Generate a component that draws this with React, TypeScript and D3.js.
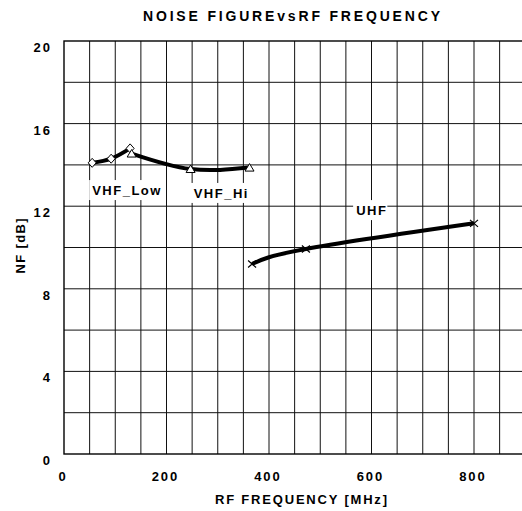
import React, { useEffect, useRef } from "react";
import * as d3 from "d3";

const freqTicks = [0, 200, 400, 600, 800];
const nfTicks = [0, 4, 8, 12, 16, 20];

const vhfLowFreq = [55, 92, 129];
const vhfLowNF = [14.1, 14.3, 14.8];
const vhfHiFreq = [132, 247, 362];
const vhfHiNF = [14.55, 13.8, 13.87];
const uhfFreq = [367, 472, 800];
const uhfNF = [9.2, 9.93, 11.17];

const seriesLabels = [
  { text: "VHF_Low", f: 55, nf: 12.54 },
  { text: "VHF_Hi", f: 253, nf: 12.4 },
  { text: "UHF", f: 570, nf: 11.57 },
];

const W = 522;
const H = 511;
const FONT = "'Liberation Sans', Arial, Helvetica, sans-serif";

export default function App() {
  const ref = useRef<SVGSVGElement>(null);

  useEffect(() => {
    const svg = d3.select(ref.current);
    svg.selectAll("*").remove();

    const x = d3.scaleLinear().domain([0, 900]).range([64, 525.25]);
    const y = d3.scaleLinear().domain([0, 20]).range([454, 41]);

    const g = svg.append("g");

    // grid
    const vGrid = d3.range(50, 900, 50);
    g.selectAll("line.v")
      .data(vGrid)
      .enter()
      .append("line")
      .attr("x1", (d) => x(d))
      .attr("x2", (d) => x(d))
      .attr("y1", y(20))
      .attr("y2", y(0))
      .attr("stroke", "#111")
      .attr("stroke-width", 1);
    const hGrid = d3.range(2, 20, 2);
    g.selectAll("line.h")
      .data(hGrid)
      .enter()
      .append("line")
      .attr("x1", x(0))
      .attr("x2", x(900))
      .attr("y1", (d) => y(d))
      .attr("y2", (d) => y(d))
      .attr("stroke", "#111")
      .attr("stroke-width", 1);

    // frame
    g.append("rect")
      .attr("x", x(0))
      .attr("y", y(20))
      .attr("width", x(900) - x(0))
      .attr("height", y(0) - y(20))
      .attr("fill", "none")
      .attr("stroke", "#000")
      .attr("stroke-width", 1.4);

    // tick labels
    g.selectAll("text.xt")
      .data(freqTicks)
      .enter()
      .append("text")
      .attr("x", (d) => x(d) - 1)
      .attr("y", 481)
      .attr("text-anchor", "middle")
      .attr("font-family", FONT)
      .attr("font-weight", "bold")
      .attr("font-size", 13)
      .attr("letter-spacing", 2)
      .text((d) => String(d));

    g.selectAll("text.yt")
      .data(nfTicks)
      .enter()
      .append("text")
      .attr("x", 52)
      .attr("y", (d) => y(d) + 11)
      .attr("text-anchor", "end")
      .attr("font-family", FONT)
      .attr("font-weight", "bold")
      .attr("font-size", 13)
      .attr("letter-spacing", 2)
      .text((d) => String(d));

    // titles
    g.append("text")
      .attr("x", 291.5)
      .attr("y", 20.5)
      .attr("text-anchor", "middle")
      .attr("font-family", FONT)
      .attr("font-weight", "bold")
      .attr("font-size", 14)
      .attr("textLength", 297)
      .attr("lengthAdjust", "spacing")
      .text("NOISE FIGUREvsRF FREQUENCY");

    g.append("text")
      .attr("x", 301)
      .attr("y", 504)
      .attr("text-anchor", "middle")
      .attr("font-family", FONT)
      .attr("font-weight", "bold")
      .attr("font-size", 13)
      .attr("textLength", 172)
      .attr("lengthAdjust", "spacing")
      .text("RF FREQUENCY [MHz]");

    g.append("text")
      .attr("transform", `translate(25,246) rotate(-90)`)
      .attr("text-anchor", "middle")
      .attr("font-family", FONT)
      .attr("font-weight", "bold")
      .attr("font-size", 13)
      .attr("textLength", 55)
      .attr("lengthAdjust", "spacing")
      .text("NF [dB]");

    // series lines
    const line = d3
      .line<[number, number]>()
      .x((d) => x(d[0]))
      .y((d) => y(d[1]))
      .curve(d3.curveNatural);

    const lowPts = vhfLowFreq.map((f, i) => [f, vhfLowNF[i]] as [number, number]);
    const hiPts = vhfHiFreq.map((f, i) => [f, vhfHiNF[i]] as [number, number]);
    const uhfPts = uhfFreq.map((f, i) => [f, uhfNF[i]] as [number, number]);

    [lowPts, hiPts, uhfPts].forEach((pts) => {
      g.append("path")
        .attr("d", line(pts))
        .attr("fill", "none")
        .attr("stroke", "#000")
        .attr("stroke-width", 4)
        .attr("stroke-linejoin", "round");
    });

    // markers
    g.selectAll("path.dia")
      .data(lowPts)
      .enter()
      .append("path")
      .attr("transform", (d) => `translate(${x(d[0])},${y(d[1])})`)
      .attr("d", "M0,-4.5L4,0L0,4.5L-4,0Z")
      .attr("fill", "#fff")
      .attr("stroke", "#000")
      .attr("stroke-width", 1);

    g.selectAll("path.tri")
      .data(hiPts)
      .enter()
      .append("path")
      .attr("transform", (d) => `translate(${x(d[0])},${y(d[1])})`)
      .attr("d", "M0,-4L4.5,3.5L-4.5,3.5Z")
      .attr("fill", "#fff")
      .attr("stroke", "#000")
      .attr("stroke-width", 1);

    g.selectAll("path.xm")
      .data(uhfPts)
      .enter()
      .append("path")
      .attr("transform", (d) => `translate(${x(d[0])},${y(d[1])})`)
      .attr("d", "M-4,-3.5L4,3.5M-4,3.5L4,-3.5")
      .attr("fill", "none")
      .attr("stroke", "#000")
      .attr("stroke-width", 1.2);

    // series labels with white boxes
    seriesLabels.forEach((l) => {
      const grp = g.append("g");
      const rect = grp.append("rect").attr("fill", "#fff");
      const t = grp
        .append("text")
        .attr("x", x(l.f))
        .attr("y", y(l.nf))
        .attr("font-family", FONT)
        .attr("font-weight", "bold")
        .attr("font-size", 13)
        .attr("letter-spacing", 1.5)
        .text(l.text);
      const bb = (t.node() as SVGTextElement).getBBox();
      rect
        .attr("x", bb.x - 3)
        .attr("y", bb.y - 3)
        .attr("width", bb.width + 3)
        .attr("height", bb.height + 5);
    });
  }, []);

  return (
    <svg
      ref={ref}
      width={W}
      height={H}
      style={{ position: "absolute", left: 0, top: 0, background: "#fff" }}
    />
  );
}
